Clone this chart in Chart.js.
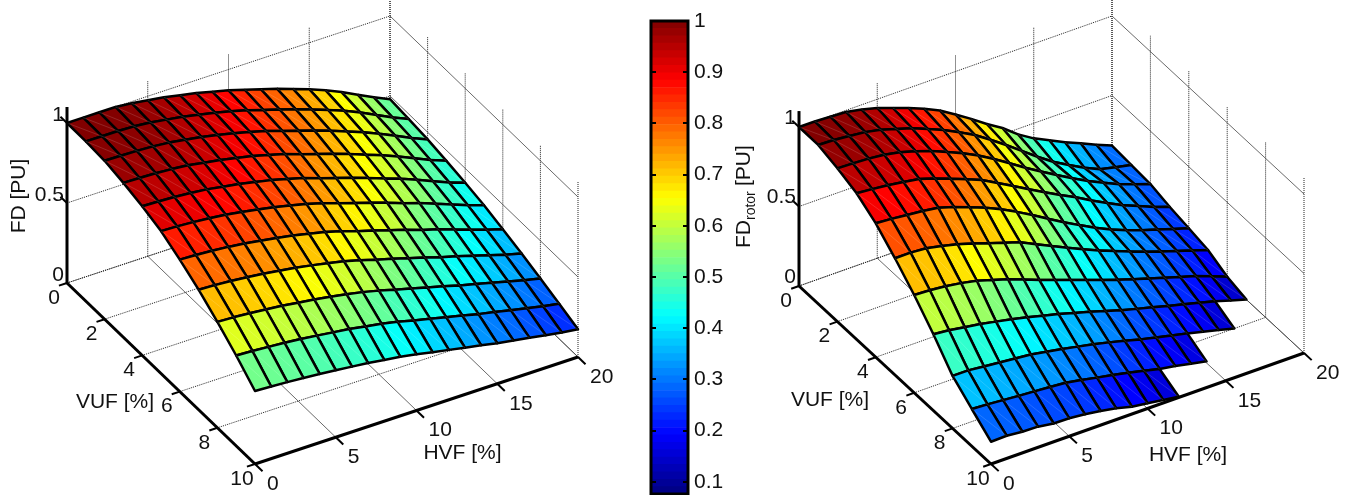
<!DOCTYPE html>
<html>
<head>
<meta charset="utf-8">
<script src="https://cdn.jsdelivr.net/npm/chart.js@4"></script>
<style>
  html, body { margin: 0; background: #fff; }
  canvas { position: absolute; top: 0; }
</style>
</head>
<body>
<canvas id="left" width="640" height="495" style="left:0"></canvas>
<canvas id="bar" width="107" height="495" style="left:640px"></canvas>
<canvas id="right" width="625" height="495" style="left:725px"></canvas>
<script>
const hvfValues = [0,1,2,3,4,5,6,7,8,9,10,11,12,13,14,15,16,17,18,19,20];
const vufValues = [0,1,2,3,4,5,6,7,8,9,10];
const hvfTicks = [0,5,10,15,20];
const vufTicks = [0,2,4,6,8,10];
const fdTicks = [0,0.5,1];
const colorbarTicks = [0.1,0.2,0.3,0.4,0.5,0.6,0.7,0.8,0.9,1];

// one row per VUF value, one column per HVF value
const fdStator = [
  [1,1,1,1,.99,.975,.96,.94,.92,.895,.87,.84,.81,.78,.745,.71,.67,.625,.575,.525,.48],
  [.998,.997,.996,.992,.983,.967,.952,.931,.91,.885,.858,.826,.796,.764,.729,.693,.654,.61,.561,.512,.469],
  [.99,.988,.985,.98,.97,.954,.938,.917,.895,.869,.842,.809,.777,.744,.709,.672,.634,.59,.544,.497,.455],
  [.965,.962,.958,.951,.941,.924,.907,.887,.865,.839,.811,.777,.745,.712,.677,.64,.603,.562,.517,.473,.434],
  [.932,.928,.923,.915,.904,.887,.87,.85,.828,.802,.774,.74,.708,.675,.64,.604,.569,.529,.487,.446,.41],
  [.89,.886,.879,.87,.859,.842,.825,.805,.783,.759,.73,.696,.665,.632,.599,.563,.53,.493,.454,.416,.383],
  [.825,.82,.813,.804,.792,.776,.76,.741,.719,.696,.668,.635,.606,.574,.543,.509,.479,.445,.41,.376,.346],
  [.75,.745,.737,.728,.716,.701,.686,.668,.648,.627,.6,.569,.542,.512,.483,.451,.424,.394,.363,.333,.307],
  [.662,.657,.649,.639,.629,.615,.601,.585,.567,.547,.523,.495,.47,.442,.416,.388,.364,.338,.312,.287,.264],
  [.565,.56,.552,.544,.534,.522,.509,.496,.479,.462,.441,.416,.394,.37,.347,.322,.302,.28,.259,.238,.22],
  [.456,.451,.445,.437,.429,.419,.408,.397,.383,.369,.351,.33,.312,.292,.274,.253,.237,.22,.203,.187,.173]
];

const fdRotor = [
  [1,1,.995,.99,.97,.945,.91,.875,.835,.79,.73,.667,.6,.54,.465,.405,.358,.31,.27,.225,.185],
  [.999,.995,.985,.975,.955,.925,.894,.855,.814,.765,.713,.648,.58,.508,.436,.37,.314,.262,.218,.195,.175],
  [.964,.96,.955,.945,.925,.897,.863,.823,.779,.73,.674,.612,.549,.49,.433,.378,.326,.28,.235,.2,.167],
  [.919,.91,.9,.885,.869,.838,.801,.763,.723,.67,.616,.56,.506,.455,.405,.35,.3,.25,.21,.17,.136],
  [.842,.835,.825,.815,.8,.77,.733,.695,.651,.6,.545,.487,.43,.377,.326,.28,.24,.205,.175,.143,.113],
  [.734,.735,.727,.706,.682,.652,.619,.587,.555,.508,.462,.417,.372,.33,.291,.253,.217,.183,.152,.12,.088],
  [.615,.61,.6,.585,.565,.535,.504,.468,.43,.395,.36,.325,.29,.257,.225,.195,.165,.135,.106,.07,.032],
  [.48,.47,.455,.44,.42,.4,.377,.352,.328,.3,.273,.242,.212,.186,.161,.135,.11,.085,.06,.03,0],
  [.33,.33,.32,.31,.3,.29,.273,.255,.235,.215,.192,.167,.141,.118,.095,.074,.05,.025,0,null,null],
  [.234,.228,.22,.212,.205,.198,.19,.172,.152,.133,.113,.09,.067,.05,.03,.01,null,null,null,null,null],
  [.14,.143,.133,.13,.115,.113,.103,.089,.071,.046,.033,.019,.004,null,null,null,null,null,null,null,null]
];

const textColor = '#111';
const font = '21px "Liberation Sans", Arial, sans-serif';

const leftView = {
  x0: 67, y0: 283, hx: 16.15, hy: -5.35, vx: 18.8, vy: 18.1, zz: 160,
  xMin: 0, xMax: 640, colorLow: 0.04,
  zLabelDy: -8, hvfLabel: [462.5, 453], vufLabel: [115, 402]
};
const rightView = {
  x0: 799, y0: 286, hx: 15.65, hy: -5.55, vx: 19.2, vy: 17.8, zz: 159,
  xMin: 725, xMax: 1350, colorLow: -0.05,
  zLabelDy: -9, hvfLabel: [1188, 455], vufLabel: [830, 400]
};

function jet(t) {
  const c = d => Math.round(255 * Math.min(1, Math.max(0, 1.5 - Math.abs(4 * t - d))));
  return `rgb(${c(3)},${c(2)},${c(1)})`;
}

function surfaceChart(id, view, rows, drawName) {
  const hMax = hvfValues[hvfValues.length - 1];
  const vMax = vufValues[vufValues.length - 1];
  const zMax = 1.1;
  const P = (h, v, z) => ({
    x: view.x0 + h * view.hx + v * view.vx,
    y: view.y0 + h * view.hy + v * view.vy - z * view.zz
  });
  const base = { pointRadius: 0, tension: 0, fill: false, borderCapStyle: 'butt' };
  const sets = [];
  const dotted = pts => sets.push({ ...base, data: pts, borderColor: '#222', borderWidth: 1, borderDash: [1, 1] });
  const thin = pts => sets.push({ ...base, data: pts, borderColor: '#444', borderWidth: 0.8 });
  const thick = (pts, w) => sets.push({ ...base, data: pts, borderColor: '#000', borderWidth: w });

  // walls and floor
  hvfTicks.forEach(h => {
    thin([P(h, 0, 0), P(h, vMax, 0)]);
    dotted([P(h, 0, 0), P(h, 0, zMax)]);
  });
  vufTicks.forEach(v => {
    dotted([P(0, v, 0), P(hMax, v, 0)]);
    dotted([P(hMax, v, 0), P(hMax, v, zMax)]);
  });
  fdTicks.forEach(z => {
    dotted([P(0, 0, z), P(hMax, 0, z)]);
    thin([P(hMax, 0, z), P(hMax, vMax, z)]);
  });

  // cells, back to front, each coloured from its four corners
  const seams = [];
  vufValues.slice(0, -1).forEach((v, r) => {
    for (let c = hvfValues.length - 2; c >= 0; c--) {
      const h = hvfValues[c];
      const a = rows[r][c], b = rows[r][c + 1], d = rows[r + 1][c], e = rows[r + 1][c + 1];
      if (a === null || b === null || d === null || e === null) continue;
      const mean = (a + b + d + e) / 4;
      const t = (mean - view.colorLow) / (1 - view.colorLow);
      sets.push({
        ...base,
        data: [P(h, v, a), P(h + 1, v, b), P(h + 1, v + 1, e), P(h, v + 1, d), P(h, v, a)],
        fill: 'shape',
        backgroundColor: jet(t),
        borderColor: '#000',
        borderWidth: 2.5,
        borderJoinStyle: 'round'
      });
      seams.push(P(h, v, a), P(h + 1, v + 1, e), { x: null, y: null });
    }
  });
  sets.push({ ...base, data: seams, borderColor: 'rgba(255,255,255,0.14)', borderWidth: 1, spanGaps: false });

  // axes and their tick marks
  thick([P(0, 0, 0), P(0, 0, zMax)], 3);
  thick([P(0, 0, 0), P(0, vMax, 0)], 3);
  thick([P(0, vMax, 0), P(hMax, vMax, 0)], 3);
  vufTicks.forEach(v => thick([P(0, v, 0), P(-0.5, v, 0)], 2));
  hvfTicks.forEach(h => thick([P(h, vMax, 0), P(h, vMax + 0.4, 0)], 2));
  fdTicks.slice(1).forEach(z => thick([P(0, 0, z), P(0, -0.35, z)], 2));

  const axisText = {
    id: 'axisText',
    afterDraw(chart) {
      const { ctx, scales: { x, y } } = chart;
      const put = (txt, px, py, align) => {
        ctx.textAlign = align;
        ctx.fillText(txt, x.getPixelForValue(px), y.getPixelForValue(py));
      };
      ctx.save();
      ctx.font = font;
      ctx.fillStyle = textColor;
      ctx.textBaseline = 'middle';
      vufTicks.forEach(v => {
        const p = P(0, v, 0);
        put(String(v), p.x - 13, p.y + 15, 'center');
      });
      hvfTicks.forEach(h => {
        const p = P(h, vMax, 0);
        put(String(h), p.x + 12, p.y + 20, 'left');
      });
      fdTicks.forEach(z => {
        const p = P(0, 0, z);
        put(String(z), p.x - 3, p.y + view.zLabelDy, 'right');
      });
      put('HVF [%]', view.hvfLabel[0], view.hvfLabel[1], 'center');
      put('VUF [%]', view.vufLabel[0], view.vufLabel[1], 'center');
      drawName(ctx, x, y);
      ctx.restore();
    }
  };

  return new Chart(document.getElementById(id), {
    type: 'line',
    data: { datasets: sets.reverse() },
    plugins: [axisText],
    options: {
      responsive: false,
      animation: false,
      events: [],
      indexAxis: 'y',
      layout: { padding: 0 },
      plugins: { legend: { display: false }, tooltip: { enabled: false } },
      scales: {
        x: { type: 'linear', display: false, min: view.xMin, max: view.xMax },
        y: { type: 'linear', display: false, min: 0, max: 495, reverse: true }
      }
    }
  });
}

surfaceChart('left', leftView, fdStator, (ctx, x, y) => {
  ctx.save();
  ctx.translate(x.getPixelForValue(25), y.getPixelForValue(196));
  ctx.rotate(-Math.PI / 2);
  ctx.textAlign = 'center';
  ctx.textBaseline = 'alphabetic';
  ctx.fillText('FD [PU]', 0, 0);
  ctx.restore();
});

surfaceChart('right', rightView, fdRotor, (ctx, x, y) => {
  ctx.save();
  ctx.translate(x.getPixelForValue(750), y.getPixelForValue(248));
  ctx.rotate(-Math.PI / 2);
  ctx.textAlign = 'left';
  ctx.textBaseline = 'alphabetic';
  ctx.fillText('FD', 0, 0);
  ctx.font = '14px "Liberation Sans", Arial, sans-serif';
  ctx.fillText('rotor', 28, 5);
  ctx.font = font;
  ctx.fillText('[PU]', 62, 0);
  ctx.restore();
});

// colour bar, 64 jet bands
const barMin = 0.0762;
const barLevels = 64;
const bands = [];
for (let i = 0; i < barLevels; i++) {
  const lo = barMin + (1 - barMin) * i / barLevels;
  const hi = barMin + (1 - barMin) * (i + 1) / barLevels;
  bands.push({
    data: [[lo, hi]],
    backgroundColor: jet((i + 0.5) / barLevels),
    borderWidth: 0,
    grouped: false,
    barPercentage: 1,
    categoryPercentage: 1
  });
}

const barFrame = {
  id: 'barFrame',
  afterDatasetsDraw(chart) {
    const { ctx, chartArea: a, scales: { y } } = chart;
    ctx.save();
    ctx.strokeStyle = '#000';
    ctx.lineWidth = 2;
    colorbarTicks.slice(0, -1).forEach(v => {
      const py = Math.round(y.getPixelForValue(v));
      ctx.beginPath();
      ctx.moveTo(a.left, py); ctx.lineTo(a.left + 5, py);
      ctx.moveTo(a.right - 5, py); ctx.lineTo(a.right, py);
      ctx.stroke();
    });
    ctx.lineWidth = 3;
    ctx.strokeRect(a.left, a.top, a.right - a.left, a.bottom - a.top);
    ctx.restore();
  }
};

new Chart(document.getElementById('bar'), {
  type: 'bar',
  data: { labels: ['FD'], datasets: bands },
  plugins: [barFrame],
  options: {
    responsive: false,
    animation: false,
    events: [],
    layout: { autoPadding: false, padding: { left: 11, right: 0, top: 21, bottom: 1 } },
    plugins: { legend: { display: false }, tooltip: { enabled: false } },
    scales: {
      x: { display: false },
      y: {
        position: 'right',
        min: barMin,
        max: 1,
        grid: { display: false, drawTicks: false },
        border: { display: false },
        afterBuildTicks: s => { s.ticks = colorbarTicks.map(value => ({ value })); },
        afterFit: s => { s.width = 59; s.paddingTop = 0; s.paddingBottom = 0; },
        ticks: {
          autoSkip: false,
          padding: 6,
          color: textColor,
          font: { family: '"Liberation Sans", Arial, sans-serif', size: 21 },
          callback: v => String(v)
        }
      }
    }
  }
});
</script>
</body>
</html>
